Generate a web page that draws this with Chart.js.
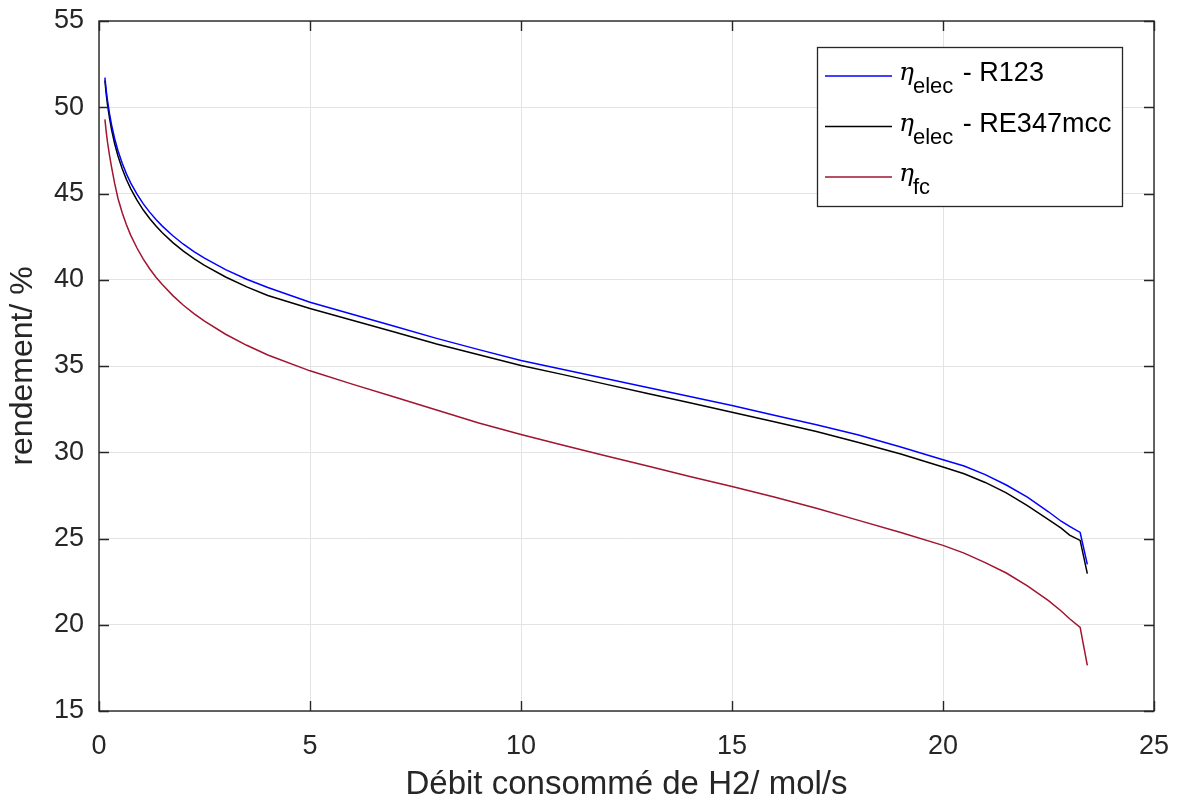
<!DOCTYPE html>
<html>
<head>
<meta charset="utf-8">
<script src="https://cdn.jsdelivr.net/npm/chart.js@4/dist/chart.umd.min.js"></script>
<style>
  html, body { margin: 0; padding: 0; background: #fff; }
  #wrap { width: 1179px; height: 805px; }
</style>
</head>
<body>
<div id="wrap"><canvas id="myChart" width="1179" height="805"></canvas></div>
<script>
// débit de H2 (mol/s)
var debit = [0.14, 0.17, 0.2, 0.25, 0.3, 0.37, 0.45, 0.55, 0.65, 0.75, 0.9, 1.05, 1.2, 1.35, 1.5, 1.75, 2, 2.25, 2.5, 3, 3.5, 4, 5,
  6, 7, 8, 9, 10, 11, 12, 13, 14, 15, 16, 17, 18, 19, 20, 20.5, 21, 21.5, 22, 22.5, 22.8, 23.0, 23.25, 23.42];

// rendements en %
var etaR123 = [51.72, 51.0, 50.42, 49.61, 48.95, 48.19, 47.48, 46.75, 46.14, 45.62, 44.96, 44.4, 43.92, 43.49, 43.11, 42.55, 42.06, 41.63, 41.25, 40.59, 40.03, 39.55, 38.7,
  38.0, 37.3, 36.6, 35.95, 35.32, 34.8, 34.27, 33.75, 33.23, 32.71, 32.15, 31.6, 31.0, 30.3, 29.57, 29.2, 28.7, 28.1, 27.4, 26.55, 26.0, 25.7, 25.35, 23.5];
var etaRE347 = [51.55, 50.78, 50.17, 49.35, 48.67, 47.9, 47.17, 46.43, 45.81, 45.28, 44.61, 44.04, 43.55, 43.11, 42.72, 42.15, 41.66, 41.22, 40.83, 40.16, 39.59, 39.09, 38.33,
  37.65, 36.97, 36.28, 35.65, 35.03, 34.5, 33.95, 33.4, 32.87, 32.32, 31.77, 31.2, 30.57, 29.9, 29.14, 28.75, 28.25, 27.65, 26.9, 26.1, 25.6, 25.2, 24.89, 22.96];
var etaFC = [49.3, 48.6, 48.0, 47.2, 46.5, 45.6, 44.71, 43.88, 43.19, 42.59, 41.84, 41.2, 40.64, 40.15, 39.72, 39.08, 38.52, 38.04, 37.6, 36.84, 36.2, 35.64, 34.72,
  33.95, 33.2, 32.45, 31.7, 31.03, 30.4, 29.8, 29.2, 28.6, 28.02, 27.4, 26.75, 26.05, 25.35, 24.6, 24.15, 23.6, 23.0, 22.25, 21.4, 20.8, 20.35, 19.85, 17.65];

var xTicks = [0, 5, 10, 15, 20, 25];
var yTicks = [15, 20, 25, 30, 35, 40, 45, 50, 55];

var axisColor = '#262626';
var gridColor = '#e3e3e3';
var fontName = '"Liberation Sans", Arial, Helvetica, sans-serif';

function pts(ys) {
  return debit.map(function (x, i) { return { x: x, y: ys[i] }; });
}

// box, inward ticks and the legend with subscripts
var boxPlugin = {
  id: 'boxPlugin',
  afterDraw: function (chart) {
    var ctx = chart.ctx;
    var a = chart.chartArea;
    var sx = chart.scales.x, sy = chart.scales.y;
    var tl = 10;
    ctx.save();
    ctx.strokeStyle = axisColor;
    ctx.lineWidth = 1.4;
    ctx.strokeRect(a.left, a.top, a.right - a.left, a.bottom - a.top);
    ctx.beginPath();
    xTicks.forEach(function (v) {
      var p = Math.round(sx.getPixelForValue(v)) + 0.5;
      ctx.moveTo(p, a.bottom); ctx.lineTo(p, a.bottom - tl);
      ctx.moveTo(p, a.top); ctx.lineTo(p, a.top + tl);
    });
    yTicks.forEach(function (v) {
      var p = Math.round(sy.getPixelForValue(v)) + 0.5;
      ctx.moveTo(a.left, p); ctx.lineTo(a.left + tl, p);
      ctx.moveTo(a.right, p); ctx.lineTo(a.right - tl, p);
    });
    ctx.stroke();

    // legend
    var lx = 817, ly = 47, lw = 305, lh = 159;
    ctx.fillStyle = '#fff';
    ctx.fillRect(lx, ly, lw, lh);
    ctx.strokeStyle = axisColor;
    ctx.lineWidth = 1.3;
    ctx.strokeRect(lx + 0.5, ly + 0.5, lw, lh);
    var rows = [
      { color: '#0000ff', sub: 'elec', rest: ' - R123' },
      { color: '#000000', sub: 'elec', rest: ' - RE347mcc' },
      { color: '#a2142f', sub: 'fc', rest: '' }
    ];
    rows.forEach(function (r, i) {
      var yy = 76 + i * 50.5;
      ctx.strokeStyle = r.color;
      ctx.lineWidth = 1.5;
      ctx.beginPath();
      ctx.moveTo(825, yy); ctx.lineTo(892, yy);
      ctx.stroke();
      ctx.fillStyle = '#000';
      ctx.textBaseline = 'alphabetic';
      ctx.textAlign = 'left';
      ctx.font = 'italic 25px "DejaVu Serif", serif';
      ctx.fillText('\u03b7', 899, yy + 4);
      ctx.font = '22px ' + fontName;
      ctx.fillText(r.sub, 913, yy + 17);
      var w = ctx.measureText(r.sub).width;
      ctx.font = '27px ' + fontName;
      if (r.rest) ctx.fillText(r.rest, 915 + w, yy + 5);
    });
    ctx.restore();
  }
};

var ctx = document.getElementById('myChart');
var myChart = new Chart(ctx, {
  type: 'line',
  data: {
    datasets: [
      { label: 'eta elec - R123', data: pts(etaR123), borderColor: '#0000ff' },
      { label: 'eta elec - RE347mcc', data: pts(etaRE347), borderColor: '#000000' },
      { label: 'eta fc', data: pts(etaFC), borderColor: '#a2142f' }
    ]
  },
  options: {
    responsive: false,
    animation: false,
    devicePixelRatio: 1,
    layout: { padding: { top: 21, right: 25, left: 0, bottom: 0 } },
    elements: {
      point: { radius: 0 },
      line: { borderWidth: 1.5, tension: 0 }
    },
    plugins: { legend: { display: false }, tooltip: { enabled: false } },
    scales: {
      x: {
        type: 'linear',
        min: 0, max: 25,
        afterBuildTicks: function (s) { s.ticks = xTicks.map(function (v) { return { value: v }; }); },
        afterFit: function (s) { s.height = 805 - 711; s.paddingLeft = 0; s.paddingRight = 0; },
        grid: { color: gridColor, drawTicks: false, lineWidth: 1 },
        border: { display: false },
        ticks: { color: axisColor, padding: 19, font: { family: fontName, size: 27 } },
        title: {
          display: true, text: 'Débit consommé de H2/ mol/s', color: axisColor,
          font: { family: fontName, size: 33 }, padding: { top: 0, bottom: 0 }
        }
      },
      y: {
        type: 'linear',
        min: 15, max: 55,
        afterBuildTicks: function (s) { s.ticks = yTicks.map(function (v) { return { value: v }; }); },
        afterFit: function (s) { s.width = 99; s.paddingTop = 0; s.paddingBottom = 0; },
        grid: { color: gridColor, drawTicks: false, lineWidth: 1 },
        border: { display: false },
        ticks: { color: axisColor, padding: 15, font: { family: fontName, size: 27 } },
        title: {
          display: true, text: 'rendement/ %', color: axisColor,
          font: { family: fontName, size: 32 }, padding: { top: 4, bottom: 0 }
        }
      }
    }
  },
  plugins: [boxPlugin]
});
</script>
</body>
</html>
